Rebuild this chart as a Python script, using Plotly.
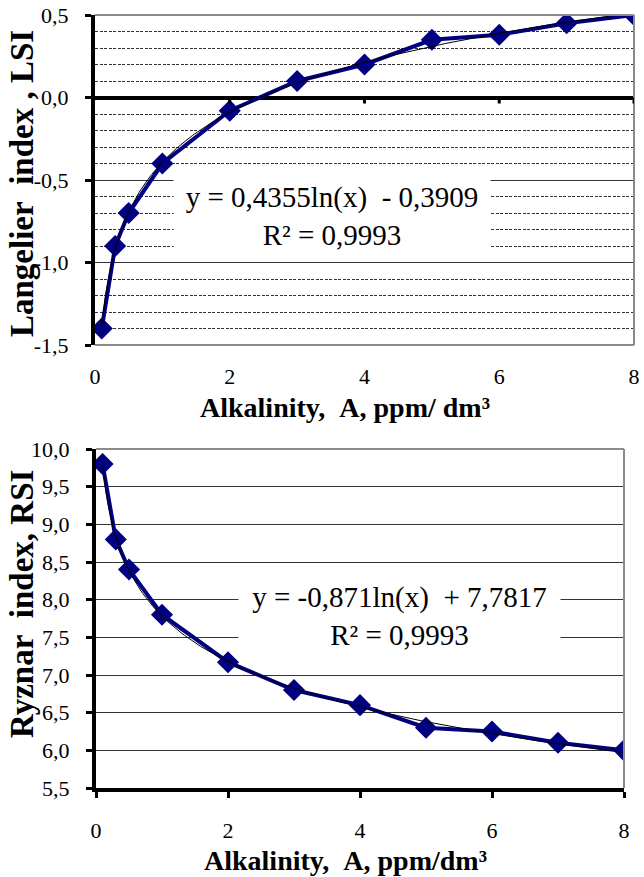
import numpy as np
import plotly.graph_objects as go

# ---------------- data ----------------
alkalinity = [0.1, 0.3, 0.5, 1, 2, 3, 4, 5, 6, 7, 8]
lsi_values = [-1.4, -0.9, -0.7, -0.4, -0.08, 0.1, 0.2, 0.35, 0.38, 0.45, 0.5]
rsi_values = [9.8, 8.8, 8.4, 7.8, 7.17, 6.8, 6.6, 6.3, 6.25, 6.1, 6.0]
lsi_fit = (0.4355, -0.3909)   # y = a ln(x) + b
rsi_fit = (-0.871, 7.7817)
x_ticks = [0, 2, 4, 6, 8]
lsi_ticks = [-1.5, -1.0, -0.5, 0.0, 0.5]
lsi_ticktext = ["-1,5", "-1,0", "-0,5", "0,0", "0,5"]
rsi_ticks = [5.5, 6.0, 6.5, 7.0, 7.5, 8.0, 8.5, 9.0, 9.5, 10.0]
rsi_ticktext = ["5,5", "6,0", "6,5", "7,0", "7,5", "8,0", "8,5", "9,0", "9,5", "10,0"]
lsi_eq = "y = 0,4355ln(x)\u00a0\u00a0- 0,3909<br>R² = 0,9993"
rsi_eq = "y = -0,871ln(x)\u00a0\u00a0+ 7,7817<br>R² = 0,9993"
lsi_title = "Langelier\u00a0\u00a0index , LSI"
rsi_title = "Ryznar\u00a0\u00a0index, RSI"
x_title_top = "Alkalinity,\u00a0\u00a0A, ppm/ dm³"
x_title_bot = "Alkalinity,\u00a0\u00a0A, ppm/dm³"

W, H = 644, 877
FONT = "'Liberation Serif', 'Times New Roman', 'DejaVu Serif', serif"
NAVY = "#000080"

def px_x(a, b):
    return [a / W, b / W]

def px_y(top, bottom):
    return [1 - bottom / H, 1 - top / H]

xt = np.linspace(min(alkalinity), max(alkalinity), 300)

fig = go.Figure()
# top chart
fig.add_trace(go.Scatter(x=alkalinity, y=lsi_values, mode="lines+markers",
                         line=dict(color=NAVY, width=4),
                         marker=dict(symbol="diamond", size=17, color=NAVY),
                         xaxis="x", yaxis="y", showlegend=False))
fig.add_trace(go.Scatter(x=xt, y=lsi_fit[0] * np.log(xt) + lsi_fit[1], mode="lines",
                         line=dict(color="black", width=1),
                         xaxis="x", yaxis="y", showlegend=False))
# bottom chart
fig.add_trace(go.Scatter(x=alkalinity, y=rsi_values, mode="lines+markers",
                         line=dict(color=NAVY, width=4),
                         marker=dict(symbol="diamond", size=17, color=NAVY),
                         xaxis="x2", yaxis="y2", showlegend=False))
fig.add_trace(go.Scatter(x=xt, y=rsi_fit[0] * np.log(xt) + rsi_fit[1], mode="lines",
                         line=dict(color="black", width=1),
                         xaxis="x2", yaxis="y2", showlegend=False))

tickfont = dict(family=FONT, size=22, color="black")

fig.update_layout(
    width=W, height=H, margin=dict(l=0, r=0, t=0, b=0, autoexpand=False),
    paper_bgcolor="white", plot_bgcolor="white",
    font=dict(family=FONT, color="black"),
    xaxis=dict(domain=px_x(95, 634), anchor="y", range=[0, 8], automargin=False,
               tickvals=x_ticks, ticks="", showline=False, showgrid=False,
               zeroline=False, tickfont=tickfont, ticklabelstandoff=16),
    yaxis=dict(domain=px_y(15, 345), anchor="x", range=[-1.5, 0.5], automargin=False,
               tickvals=lsi_ticks, ticktext=lsi_ticktext,
               showline=True, linecolor="black", linewidth=4,
               ticks="outside", ticklen=6, tickwidth=3, tickcolor="black",
               showgrid=True, gridcolor="#333333", gridwidth=1,
               minor=dict(dtick=0.1, showgrid=True, gridcolor="#333333",
                          griddash="3px,1.5px", gridwidth=1, ticks=""),
               zeroline=True, zerolinecolor="black", zerolinewidth=3.5,
               tickfont=tickfont, ticklabelstandoff=12),
    xaxis2=dict(domain=px_x(96, 624), anchor="y2", range=[0, 8], automargin=False,
                tickvals=x_ticks, showline=True, linecolor="black", linewidth=4,
                ticks="outside", ticklen=6, tickwidth=3, tickcolor="black",
                showgrid=False, zeroline=False, tickfont=tickfont,
                ticklabelstandoff=14),
    yaxis2=dict(domain=px_y(449, 788), anchor="x2", range=[5.5, 10.0], automargin=False,
                tickvals=rsi_ticks, ticktext=rsi_ticktext,
                showline=True, linecolor="black", linewidth=4,
                ticks="outside", ticklen=6, tickwidth=3, tickcolor="black",
                showgrid=True, gridcolor="#333333", gridwidth=1,
                zeroline=False, tickfont=tickfont, ticklabelstandoff=12),
)

shapes = []
gray = dict(color="#8c8c8c", width=2)
for xa, ya in (("x", "y"), ("x2", "y2")):
    shapes.append(dict(type="line", xref=xa + " domain", yref=ya + " domain",
                       x0=0, x1=1, y0=1, y1=1, line=gray))
    shapes.append(dict(type="line", xref=xa + " domain", yref=ya + " domain",
                       x0=1, x1=1, y0=0, y1=1, line=gray))
shapes.append(dict(type="line", xref="x domain", yref="y domain",
                   x0=0, x1=1, y0=0, y1=0, line=gray))
# small tick marks on the zero line of the top chart
for t in x_ticks[1:]:
    shapes.append(dict(type="line", xref="x", yref="y", ysizemode="pixel",
                       yanchor=0, x0=t, x1=t, y0=-6, y1=0,
                       line=dict(color="black", width=3)))
fig.update_layout(shapes=shapes)

eqfont = dict(family=FONT, size=29, color="black")
ann_common = dict(showarrow=False, xanchor="center", yanchor="middle")
annotations = [
    dict(xref="x", yref="y", x=3.52, y=-0.718, text=lsi_eq,
         font=eqfont, bgcolor="white", width=314, height=84, align="center", **ann_common),
    dict(xref="x2", yref="y2", x=4.6, y=7.78, text=rsi_eq,
         font=eqfont, bgcolor="white", width=319, height=70, align="center", **ann_common),
    dict(xref="paper", yref="paper", x=345 / W, y=1 - 407 / H, text="<b>" + x_title_top + "</b>",
         font=dict(family=FONT, size=28, color="black"), **ann_common),
    dict(xref="paper", yref="paper", x=345 / W, y=1 - 860 / H, text="<b>" + x_title_bot + "</b>",
         font=dict(family=FONT, size=28, color="black"), **ann_common),
    dict(xref="paper", yref="paper", x=22 / W, y=1 - 184 / H, text="<b>" + lsi_title + "</b>",
         textangle=-90, font=dict(family=FONT, size=33, color="black"), **ann_common),
    dict(xref="paper", yref="paper", x=22 / W, y=1 - 604 / H, text="<b>" + rsi_title + "</b>",
         textangle=-90, font=dict(family=FONT, size=33, color="black"), **ann_common),
]
fig.update_layout(annotations=annotations)

fig.write_html("out.html")
